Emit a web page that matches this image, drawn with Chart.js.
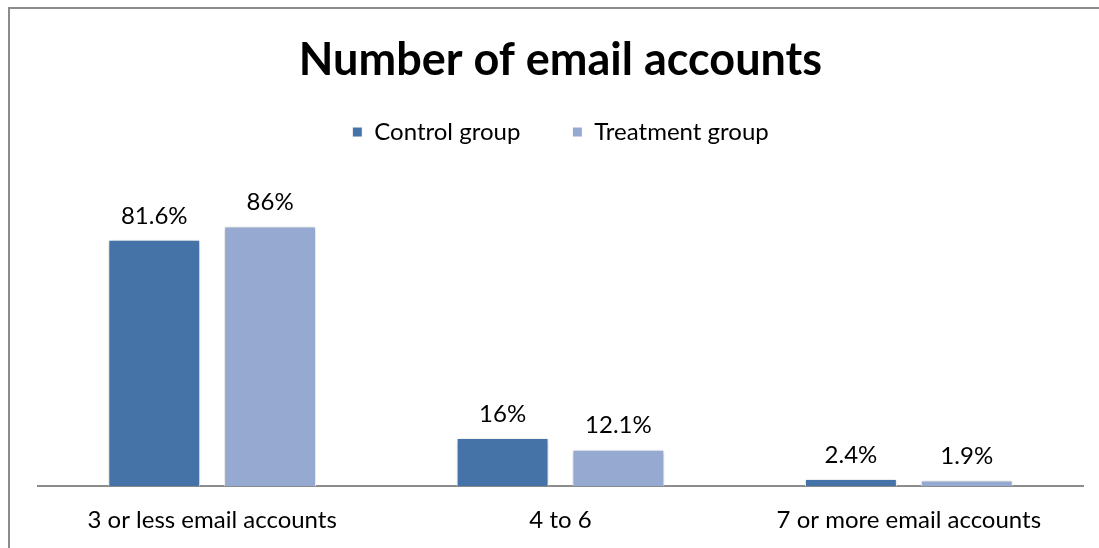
<!DOCTYPE html>
<html>
<head>
<meta charset="utf-8">
<script src="https://cdn.jsdelivr.net/npm/chart.js@4.4.1/dist/chart.umd.min.js"></script>
<style>
  html, body { margin: 0; padding: 0; background: #ffffff; }
  #wrap { width: 1099px; height: 548px; position: relative; }
</style>
</head>
<body>
<div id="wrap"><canvas id="chart" width="1099" height="548"></canvas></div>
<script>
// Survey answers: share of respondents per bucket of email accounts
const categories = ['3 or less email accounts', '4 to 6', '7 or more email accounts'];
const controlGroup = [81.6, 16, 2.4];
const treatmentGroup = [86, 12.1, 1.9];
const valueLabels = [['81.6%', '16%', '2.4%'], ['86%', '12.1%', '1.9%']];

const FONT = 'Lato, "Open Sans", sans-serif';

// Frame lines along the top and left of the chart box
const framePlugin = {
  id: 'frame',
  beforeDraw(chart) {
    const ctx = chart.ctx;
    ctx.save();
    ctx.fillStyle = '#ffffff';
    ctx.fillRect(0, 0, chart.width, chart.height);
    ctx.strokeStyle = '#8c8c8c';
    ctx.lineWidth = 2;
    ctx.beginPath();
    ctx.moveTo(9, chart.height);
    ctx.lineTo(9, 8);
    ctx.lineTo(chart.width, 8);
    ctx.stroke();
    ctx.restore();
  }
};

// Soft drop shadow under each bar
const shadowPlugin = {
  id: 'barShadow',
  beforeDatasetsDraw(chart) {
    const ctx = chart.ctx;
    ctx.save();
    ctx.shadowColor = 'rgba(0,0,0,0.28)';
    ctx.shadowBlur = 5;
    ctx.shadowOffsetX = 0;
    ctx.shadowOffsetY = 1;
  },
  afterDatasetsDraw(chart) {
    chart.ctx.restore();
  }
};

// Percentage labels above each bar
const valueLabelPlugin = {
  id: 'valueLabels',
  afterDatasetsDraw(chart) {
    const ctx = chart.ctx;
    ctx.save();
    ctx.font = '24px ' + FONT;
    ctx.fillStyle = '#000000';
    ctx.textAlign = 'center';
    ctx.textBaseline = 'middle';
    chart.data.datasets.forEach((ds, di) => {
      chart.getDatasetMeta(di).data.forEach((bar, i) => {
        ctx.fillText(valueLabels[di][i], bar.x, bar.y - 24);
      });
    });
    ctx.restore();
  }
};

new Chart(document.getElementById('chart'), {
  type: 'bar',
  data: {
    labels: categories,
    datasets: [
      {
        label: 'Control group',
        data: controlGroup,
        backgroundColor: '#4572A7',
        borderColor: '#ffffff',
        borderWidth: 1,
        categoryPercentage: 0.665,
        barPercentage: 0.793
      },
      {
        label: 'Treatment group',
        data: treatmentGroup,
        backgroundColor: '#95A9D1',
        borderColor: '#ffffff',
        borderWidth: 1,
        categoryPercentage: 0.665,
        barPercentage: 0.793
      }
    ]
  },
  options: {
    responsive: false,
    animation: false,
    devicePixelRatio: 1,
    layout: { padding: { top: 8, left: 38, right: 16, bottom: -7 } },
    plugins: {
      title: {
        display: true,
        text: 'Number of email accounts',
        color: '#000000',
        font: { family: FONT, size: 45, weight: 'bold', lineHeight: 0.356 },
        padding: { top: 44, bottom: 0 }
      },
      legend: {
        display: true,
        position: 'top',
        labels: {
          color: '#000000',
          font: { family: FONT, size: 24 },
          boxWidth: 10,
          boxHeight: 10,
          padding: 52,
          useBorderRadius: false
        }
      },
      tooltip: { enabled: false }
    },
    scales: {
      x: {
        grid: { display: false, drawTicks: false },
        border: { display: true, color: '#8c8c8c', width: 2 },
        ticks: { color: '#000000', font: { family: FONT, size: 24 }, padding: 20, maxRotation: 0 }
      },
      y: {
        display: false,
        min: 0,
        max: 110
      }
    }
  },
  plugins: [framePlugin, shadowPlugin, valueLabelPlugin]
});
</script>
</body>
</html>
